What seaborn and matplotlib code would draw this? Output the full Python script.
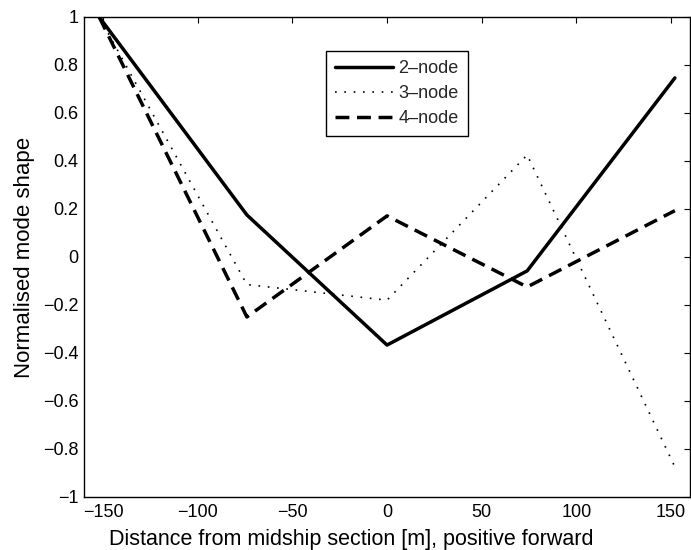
import numpy as np
import pandas as pd
import matplotlib
matplotlib.use("Agg")
import matplotlib.pyplot as plt
import seaborn as sns
from matplotlib.ticker import FuncFormatter

# Station positions along the hull [m]
stations = [-152, -74, 0, 74, 152]

# Normalised mode shapes
mode_2node = [1.0, 0.175, -0.367, -0.058, 0.746]
mode_3node = [1.0, -0.115, -0.18, 0.425, -0.875]
mode_4node = [1.0, -0.25, 0.171, -0.125, 0.193]

labels = ["2\u2013node", "3\u2013node", "4\u2013node"]

x_ticks = [-150, -100, -50, 0, 50, 100, 150]
y_ticks = [-1, -0.8, -0.6, -0.4, -0.2, 0, 0.2, 0.4, 0.6, 0.8, 1]

sns.set_style("white")
plt.rcParams["font.family"] = ["Liberation Sans", "DejaVu Sans"]

df = pd.DataFrame({
    "x": stations * 3,
    "y": mode_2node + mode_3node + mode_4node,
    "mode": [labels[0]] * 5 + [labels[1]] * 5 + [labels[2]] * 5,
})

fig = plt.figure(figsize=(6.91, 5.5), dpi=100)
ax = fig.add_axes([0.1216, 0.0964, 0.877, 0.8728])

styles = {
    labels[0]: dict(lw=2.5, ls="-"),
    labels[1]: dict(lw=1.2, ls=(0, (1.0, 4.6))),
    labels[2]: dict(lw=2.5, ls=(0, (4.0, 2.2))),
}
for name in labels:
    sub = df[df["mode"] == name]
    sns.lineplot(data=sub, x="x", y="y", ax=ax, color="black", label=name,
                 sort=False, estimator=None, **styles[name])

ax.set_xlim(-160, 160)
ax.set_ylim(-1, 1)
ax.set_xticks(x_ticks)
ax.set_yticks(y_ticks)

fmt = FuncFormatter(lambda v, p: ("%g" % v).replace("-", "\u2212"))
ax.xaxis.set_major_formatter(fmt)
ax.yaxis.set_major_formatter(fmt)

ax.tick_params(direction="in", length=4, width=0.8, top=True, right=True,
               labelsize=13, colors="black")
ax.tick_params(axis="x", pad=5)
ax.tick_params(axis="y", pad=4)
for s in ax.spines.values():
    s.set_visible(True)
    s.set_color("black")
    s.set_linewidth(1.0)

ax.set_xlabel("Distance from midship section [m], positive forward",
              fontsize=15.5, color="black")
ax.xaxis.set_label_coords(0.4415, -0.066)
ax.xaxis.label.set_va("top")
ax.set_ylabel("Normalised mode shape", fontsize=16, labelpad=6, color="black")

leg = ax.legend(loc="upper left", bbox_to_anchor=(0.472, 0.907),
                bbox_transform=fig.transFigure, fontsize=13, frameon=True,
                fancybox=False, framealpha=1, edgecolor="black",
                handlelength=3.2, handletextpad=0.3, borderpad=0.5,
                labelspacing=0.45, borderaxespad=0)
leg.get_frame().set_linewidth(1.0)

fig.savefig("out.png", dpi=100)
